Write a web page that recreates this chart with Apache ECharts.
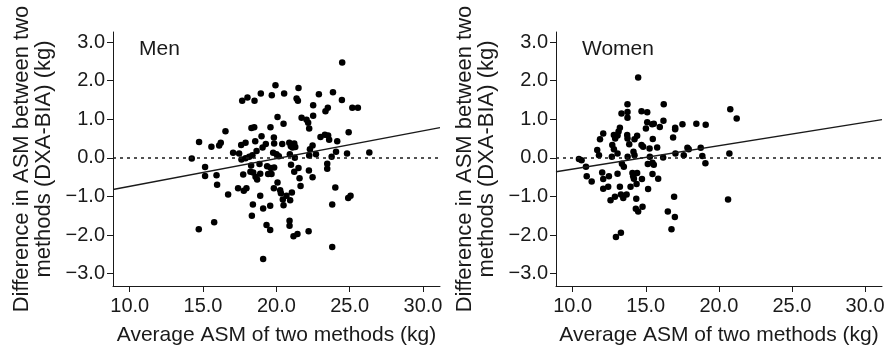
<!DOCTYPE html>
<html>
<head>
<meta charset="utf-8">
<script src="https://cdn.jsdelivr.net/npm/echarts@6/dist/echarts.min.js"></script>
<style>
  html, body { margin: 0; padding: 0; background: #fff; }
  #chart { width: 886px; height: 346px; }
</style>
</head>
<body>
<div id="chart"></div>
<script>
// tick labels
const xTicks = [10, 15, 20, 25, 30];
const yTicks = [-3, -2, -1, 0, 1, 2, 3];

// Men: average ASM (x) vs difference DXA-BIA (y)
const menX = [24.49, 19.94, 18.94, 19.69, 20.53, 18.03, 17.67, 18.51, 21.51, 21.38,
  21.47, 22.90, 23.86, 24.47, 22.51, 23.51, 23.35, 25.18, 25.56, 20.08,
  21.72, 22.06, 22.51, 22.17, 22.24, 20.49, 18.30, 18.49, 19.60, 16.53,
  24.93, 14.73, 15.57, 16.10, 16.21, 18.99, 19.83, 23.01, 23.31, 23.53,
  23.60, 24.15, 17.90, 17.60, 18.56, 18.65, 19.06, 19.28, 19.85, 20.40,
  20.88, 20.99, 21.22, 21.29, 21.10, 22.29, 22.47, 22.70, 22.24, 24.07,
  24.82, 26.34, 17.05, 17.46, 14.23, 17.62, 17.90, 18.15, 18.37, 19.78,
  20.01, 20.17, 20.92, 21.26, 23.77, 18.28, 18.85, 19.37, 19.62, 19.85,
  21.00, 21.51, 21.22, 23.47, 23.47, 15.14, 15.14, 15.92, 17.74, 18.23,
  18.42, 18.58, 18.69, 18.90, 19.44, 19.67, 22.22, 21.58, 22.47, 15.96,
  17.39, 17.78, 17.96, 16.71, 18.90, 19.83, 20.08, 20.26, 20.31, 20.69,
  20.44, 21.06, 20.94, 21.65, 24.02, 24.90, 25.06, 18.40, 19.58, 20.49,
  23.81, 19.10, 18.33, 15.76, 14.71, 19.33, 19.58, 20.90, 20.90, 21.17,
  21.44, 22.20, 23.81, 19.10];
const menY = [2.47, 1.88, 1.67, 1.62, 1.67, 1.56, 1.48, 1.48, 1.81, 1.54,
  1.48, 1.65, 1.70, 1.50, 1.36, 1.30, 1.21, 1.30, 1.30, 1.06,
  1.04, 0.99, 1.09, 0.91, 0.76, 0.88, 0.77, 0.79, 0.79, 0.69,
  0.66, 0.41, 0.29, 0.32, 0.39, 0.56, 0.53, 0.54, 0.60, 0.58,
  0.47, 0.43, 0.39, 0.33, 0.43, 0.18, 0.27, 0.36, 0.37, 0.36,
  0.39, 0.30, 0.37, 0.28, 0.27, 0.22, 0.32, 0.09, 0.06, 0.16,
  0.11, 0.14, 0.13, 0.11, -0.02, -0.04, -0.01, 0.03, 0.07, 0.13,
  0.09, 0.04, 0.09, 0.00, 0.03, -0.20, -0.16, -0.22, -0.26, -0.25,
  -0.18, -0.26, -0.36, -0.15, -0.28, -0.24, -0.47, -0.45, -0.43, -0.36,
  -0.38, -0.49, -0.56, -0.41, -0.42, -0.42, -0.33, -0.53, -0.50, -0.70,
  -0.79, -0.85, -0.79, -0.95, -0.98, -0.79, -0.64, -0.84, -0.92, -0.98,
  -1.08, -0.90, -1.10, -0.73, -0.77, -1.04, -0.98, -1.21, -1.24, -1.23,
  -1.21, -1.31, -1.50, -1.67, -1.85, -1.74, -1.87, -1.63, -1.76, -2.03,
  -1.97, -1.90, -2.31, -2.62];

// Women
const womenX = [14.48, 13.75, 16.23, 13.34, 13.75, 13.75, 14.71, 15.10, 15.10, 15.01,
  15.44, 15.55, 15.96, 16.21, 17.01, 17.01, 17.51, 18.46, 19.10, 20.78,
  21.22, 12.09, 11.87, 12.82, 12.91, 13.07, 13.23, 13.14, 13.73, 13.87,
  13.75, 14.23, 14.41, 14.71, 14.82, 15.48, 15.78, 15.26, 16.87, 17.85,
  17.94, 18.76, 11.68, 11.80, 12.71, 12.82, 12.68, 13.07, 13.76, 14.16,
  14.23, 15.28, 16.19, 17.03, 17.60, 18.87, 20.72, 10.43, 10.61, 10.91,
  13.37, 13.50, 15.14, 15.46, 15.55, 19.08, 10.96, 11.30, 12.02, 12.09,
  12.48, 13.07, 14.09, 14.41, 14.14, 14.19, 14.74, 14.37, 15.46, 15.85,
  12.09, 12.43, 13.23, 13.96, 15.16, 12.59, 12.89, 13.30, 13.46, 13.69,
  14.35, 16.94, 20.63, 14.32, 14.48, 14.78, 16.51, 16.99, 16.76, 12.96,
  13.30];
const womenY = [2.08, 1.39, 1.39, 1.15, 1.19, 1.04, 1.21, 1.18, 0.92, 0.76,
  0.87, 0.88, 0.80, 0.96, 0.78, 0.74, 0.87, 0.88, 0.86, 1.26,
  1.02, 0.63, 0.48, 0.59, 0.50, 0.58, 0.78, 0.68, 0.59, 0.35,
  0.50, 0.48, 0.57, 0.33, 0.29, 0.49, 0.27, 0.24, 0.53, 0.26,
  0.22, 0.26, 0.20, 0.07, 0.33, 0.22, 0.03, 0.11, 0.03, 0.16,
  0.07, 0.03, 0.01, 0.11, 0.07, 0.05, 0.11, -0.03, -0.06, -0.23,
  -0.15, -0.23, -0.16, -0.13, -0.18, -0.14, -0.48, -0.61, -0.38, -0.55,
  -0.48, -0.41, -0.39, -0.39, -0.48, -0.54, -0.55, -0.68, -0.42, -0.54,
  -0.80, -0.75, -0.75, -0.75, -0.81, -1.10, -1.01, -0.95, -1.04, -0.95,
  -1.06, -1.01, -1.08, -1.32, -1.39, -1.27, -1.39, -1.53, -1.85, -2.05,
  -1.94];

// fitted lines (end points at the axis limits)
const menFitX = [8.86, 31.16];
const menFitY = [-0.82, 0.78];
const womenFitX = [8.86, 31.16];
const womenFitY = [-0.36, 0.99];

const zip = (xs, ys) => xs.map((x, i) => [x, ys[i]]);
const fmt = v => v.toFixed(1).replace('-', '\u2212');

const font = 'Liberation Sans, Arial, sans-serif';
const ink = '#1a1a1a';

function xAxisFor(idx) {
  return {
    gridIndex: idx,
    type: 'value',
    min: 8.86,
    max: 31.16,
    name: 'Average ASM of two methods (kg)',
    nameLocation: 'middle',
    nameGap: 39,
    nameTextStyle: { fontFamily: font, fontSize: 21, color: ink },
    axisLine: { show: true, onZero: false, lineStyle: { color: ink, width: 1 } },
    axisTick: { show: true, length: 6, customValues: xTicks, lineStyle: { color: ink } },
    axisLabel: { customValues: xTicks, formatter: fmt, fontFamily: font, fontSize: 20, color: ink, margin: 10 },
    splitLine: { show: false }
  };
}

function yAxisFor(idx) {
  return {
    gridIndex: idx,
    type: 'value',
    min: -3.32,
    max: 3.26,
    name: 'Difference in ASM between two\nmethods (DXA-BIA) (kg)',
    nameLocation: 'middle',
    nameGap: 58,
    nameTextStyle: { fontFamily: font, fontSize: 22, color: ink, lineHeight: 22 },
    axisLine: { show: true, onZero: false, lineStyle: { color: ink, width: 1 } },
    axisTick: { show: true, length: 6, customValues: yTicks, lineStyle: { color: ink } },
    axisLabel: { customValues: yTicks, formatter: fmt, fontFamily: font, fontSize: 20, color: ink, margin: 8 },
    splitLine: { show: false }
  };
}

const zeroLine = {
  silent: true,
  symbol: 'none',
  label: { show: false },
  lineStyle: { type: [3, 4], color: ink, width: 1.5 },
  data: [{ yAxis: 0 }]
};

const dot = { symbolSize: 6.5, itemStyle: { color: '#000', opacity: 1 } };

const chart = echarts.init(document.getElementById('chart'));
chart.setOption({
  animation: false,
  backgroundColor: '#fff',
  title: [
    { text: 'Men', left: 139, top: 39, padding: 0,
      textStyle: { fontFamily: font, fontSize: 21, fontWeight: 'normal', color: ink } },
    { text: 'Women', left: 582, top: 39, padding: 0,
      textStyle: { fontFamily: font, fontSize: 21, fontWeight: 'normal', color: ink } }
  ],
  grid: [
    { left: 113, top: 32, width: 327, height: 254, outerBoundsMode: 'none' },
    { left: 556, top: 32, width: 326, height: 254, outerBoundsMode: 'none' }
  ],
  xAxis: [xAxisFor(0), xAxisFor(1)],
  yAxis: [yAxisFor(0), yAxisFor(1)],
  series: [
    Object.assign({ type: 'scatter', xAxisIndex: 0, yAxisIndex: 0, data: zip(menX, menY), markLine: zeroLine }, dot),
    { type: 'line', xAxisIndex: 0, yAxisIndex: 0, data: zip(menFitX, menFitY), showSymbol: false,
      lineStyle: { color: ink, width: 1.3 } },
    Object.assign({ type: 'scatter', xAxisIndex: 1, yAxisIndex: 1, data: zip(womenX, womenY), markLine: zeroLine }, dot),
    { type: 'line', xAxisIndex: 1, yAxisIndex: 1, data: zip(womenFitX, womenFitY), showSymbol: false,
      lineStyle: { color: ink, width: 1.3 } }
  ]
});
</script>
</body>
</html>
